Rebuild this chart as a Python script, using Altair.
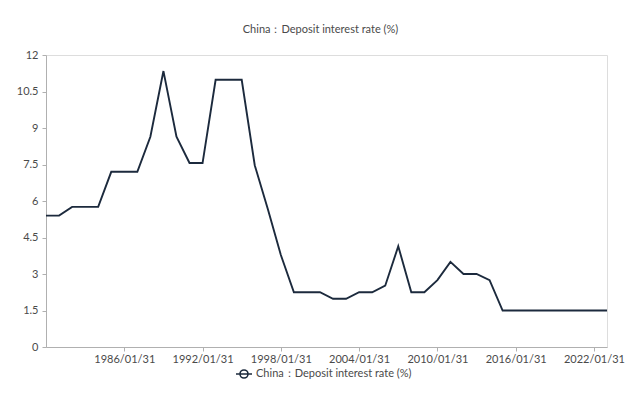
import altair as alt
import pandas as pd

years = list(range(1980, 2024))
rates = [5.40, 5.40, 5.76, 5.76, 5.76, 7.20, 7.20, 7.20, 8.64, 11.34,
         8.64, 7.56, 7.56, 10.98, 10.98, 10.98, 7.47, 5.67, 3.78, 2.25,
         2.25, 2.25, 1.98, 1.98, 2.25, 2.25, 2.52, 4.14, 2.25, 2.25,
         2.75, 3.50, 3.00, 3.00, 2.75, 1.50, 1.50, 1.50, 1.50, 1.50,
         1.50, 1.50, 1.50, 1.50]
tick_years = [1986, 1992, 1998, 2004, 2010, 2016, 2022]
y_ticks = [0, 1.5, 3, 4.5, 6, 7.5, 9, 10.5, 12]
series_name = "China：Deposit interest rate (%)"

df = pd.DataFrame({
    "date": [f"{y}/01/31" for y in years],
    "rate": rates,
    "series": [series_name] * len(years),
})

FONT = "Lato"
LINE = "#1c2a3d"
TXT = "#4a4a4a"
AX = "#b0b0b0"

symbol_path = "M-1,0L1,0M-0.5,0A0.5,0.5,0,1,1,0.5,0A0.5,0.5,0,1,1,-0.5,0"

chart = alt.Chart(df).mark_line(strokeWidth=1.9).encode(
    x=alt.X(
        "date:T",
        scale=alt.Scale(domain=["1980/01/31", "2023/01/31"], nice=False),
        axis=alt.Axis(
            title=None,
            values=[alt.DateTime(year=y, month=1, date=31) for y in tick_years],
            format="%Y/%m/%d",
            grid=False,
            domainColor=AX,
            tickColor=AX,
            tickSize=4,
            labelColor=TXT,
            labelFontSize=11,
            labelFont=FONT,
            labelPadding=2,
        ),
    ),
    y=alt.Y(
        "rate:Q",
        scale=alt.Scale(domain=[0, 12], nice=False),
        axis=alt.Axis(
            title=None,
            values=y_ticks,
            format=".3~g",
            grid=False,
            domainColor=AX,
            tickColor=AX,
            tickSize=4,
            labelColor=TXT,
            labelFontSize=11,
            labelFont=FONT,
            labelPadding=4,
        ),
    ),
    color=alt.Color(
        "series:N",
        scale=alt.Scale(range=[LINE]),
        legend=alt.Legend(
            title=None,
            orient="none",
            legendX=189,
            legendY=310,
            symbolType=symbol_path,
            symbolSize=256,
            symbolStrokeWidth=1.6,
            symbolFillColor="white",
            symbolStrokeColor=LINE,
            labelFont=FONT,
            labelFontSize=11,
            labelColor=TXT,
            labelOffset=3,
        ),
    ),
).properties(
    width=561,
    height=292,
    autosize=alt.AutoSizeParams(type="none"),
    padding={"left": 38, "top": 47, "right": 24, "bottom": 60},
    title=alt.TitleParams(
        series_name,
        font=FONT,
        fontSize=11,
        fontWeight="normal",
        color=TXT,
        offset=14,
        dx=-6,
    ),
).configure_view(stroke=None).configure(background="white")

chart.save("out.html", embed_options={"renderer": "svg", "actions": False})
